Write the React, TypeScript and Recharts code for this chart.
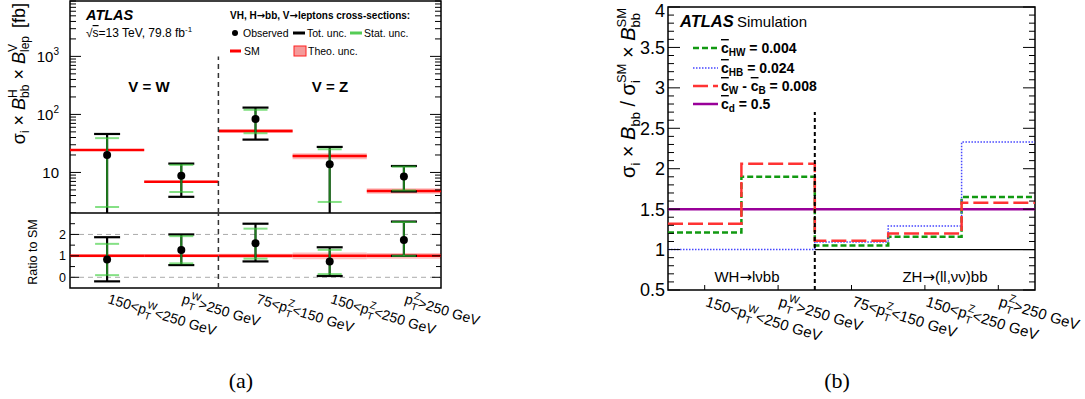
import React from "react";
import {
  ComposedChart,
  Line,
  Scatter,
  ErrorBar,
  XAxis,
  YAxis,
  ReferenceLine,
  ReferenceArea,
} from "recharts";

const FONT = "'Liberation Sans', Arial, Helvetica, sans-serif";
const ARROW = "'DejaVu Sans', sans-serif";

// five pT categories, shared by both panels
const binCenters = [0.5, 1.5, 2.5, 3.5, 4.5];
const binEdges = [0, 1, 2, 3, 4, 5];
const binLabels = [
  { pre: "150<p", sup: "W", post: "<250 GeV" },
  { pre: "p", sup: "W", post: ">250 GeV" },
  { pre: "75<p", sup: "Z", post: "<150 GeV" },
  { pre: "150<p", sup: "Z", post: "<250 GeV" },
  { pre: "p", sup: "Z", post: ">250 GeV" },
];

// (a) cross-sections [fb]
const observed = [20, 8.8, 83.6, 13.8, 8.5];
const totHigh = [46, 14.2, 131, 27.5, 12.9];
const totLow = [1.2, 3.8, 36.8, 1.2, 4.7];
const statHigh = [39, 13.5, 120, 25.1, 12.6];
const statLow = [2.54, 4.6, 47.4, 3.1, 4.9];
const smXsec = [24.4, 6.9, 52, 19.2, 4.8];
const theoRel = [0.04, 0.04, 0.08, 0.12, 0.11];

// (a) ratio to SM
const ratioObs = [0.83, 1.27, 1.59, 0.74, 1.74];
const ratioTotHigh = [1.87, 2.0, 2.5, 1.4, 2.6];
const ratioTotLow = [-0.19, 0.57, 0.74, 0.06, 1.0];
const ratioStatHigh = [1.56, 1.92, 2.27, 1.28, 2.58];
const ratioStatLow = [0.1, 0.65, 0.87, 0.15, 1.0];
const ratioSm = [1, 1, 1, 1, 1];
const ratioTheoRel = [0.06, 0.06, 0.1, 0.16, 0.13];

// (b) EFT ratios per bin
const cHW = [1.21, 1.9, 1.05, 1.16, 1.65];
const cHB = [1.0, 1.0, 1.095, 1.29, 2.33];
const cWB = [1.32, 2.06, 1.11, 1.2, 1.58];
const cD = [1.5, 1.5, 1.5, 1.5, 1.5];

// axis ticks
const logMajor = [10, 100, 1000];
const logTicks = [1, 10, 100, 1000]
  .flatMap((d) => [2, 3, 4, 5, 6, 7, 8, 9].map((k) => k * d))
  .concat(logMajor)
  .filter((v) => v >= 2 && v <= 9000);
const ratioMajor = [0, 1, 2];
const ratioTicks = [0, 0.5, 1, 1.5, 2, 2.5];
const bMajor = [0.5, 1, 1.5, 2, 2.5, 3, 3.5, 4];
const bTicks = Array.from({ length: 36 }, (_, i) => Math.round((0.5 + i * 0.1) * 10) / 10);

const rowsA = binCenters.map((x, i) => ({
  x,
  obs: observed[i],
  tot: [observed[i] - totLow[i], totHigh[i] - observed[i]],
  stat: [observed[i] - statLow[i], statHigh[i] - observed[i]],
}));

const rowsR = binCenters.map((x, i) => ({
  x,
  obs: ratioObs[i],
  tot: [ratioObs[i] - ratioTotLow[i], ratioTotHigh[i] - ratioObs[i]],
  stat: [ratioObs[i] - ratioStatLow[i], ratioStatHigh[i] - ratioObs[i]],
}));

const rowsB = binEdges.map((x, i) => {
  const k = Math.min(i, 4);
  return { x, hw: cHW[k], hb: cHB[k], wb: cWB[k], d: cD[k] };
});

function SideTick(props: any) {
  const { x, y, payload, cfg } = props;
  const v = payload.value;
  const major = cfg.majors.some((m: number) => Math.abs(m - v) < 1e-6);
  const dir = cfg.side === "left" ? 1 : -1;
  const len = major ? cfg.majLen : cfg.minLen;
  // keep the topmost label inside the picture
  const ty = Math.max(y + cfg.fs * 0.36, cfg.fs * 0.92);
  return (
    <g>
      <line x1={x} x2={x + dir * len} y1={y} y2={y} stroke="#000" strokeWidth={1} />
      {cfg.side === "left" && major && (
        <text x={x - cfg.gap} y={ty} textAnchor="end" fontSize={cfg.fs} fontFamily={FONT} fill="#000">
          {cfg.label(v)}
        </text>
      )}
    </g>
  );
}

function BinLabel(props: any) {
  const { x, y, payload, fs, off, mark } = props;
  const lab = binLabels[binCenters.indexOf(payload.value)];
  if (!lab) return null;
  const s = fs * 0.72;
  return (
    <g>
      {mark && <line x1={x} x2={x} y1={y} y2={y - 5} stroke="#000" strokeWidth={1} />}
      <text transform={`translate(${x},${y + off}) rotate(17)`} fontSize={fs} fontFamily={FONT} fill="#000">
        <tspan>{lab.pre}</tspan>
        <tspan fontSize={s} dy={fs * 0.3}>T</tspan>
        <tspan fontSize={s} dx={-s * 0.611} dy={-fs * 0.8}>{lab.sup}</tspan>
        <tspan dy={fs * 0.5}>{lab.post}</tspan>
      </text>
    </g>
  );
}

const dot = (p: any) => <circle cx={p.cx} cy={p.cy} r={4} fill="#000" />;

const logLabel = (v: number) =>
  v === 10 ? (
    "10"
  ) : (
    <>
      10
      <tspan fontSize={10} dy={-7}>{v === 100 ? "2" : "3"}</tspan>
    </>
  );

const numLabel = (v: number) => String(v);

function PanelA() {
  const cfgL = { side: "left", majors: logMajor, majLen: 11, minLen: 6, gap: 11, fs: 15, label: logLabel };
  const cfgR = { ...cfgL, side: "right" };
  return (
    <ComposedChart width={460} height={213} data={rowsA} margin={{ top: 1, right: 0, bottom: 0, left: 0 }}>
      <XAxis dataKey="x" type="number" domain={[0, 5]} hide />
      <YAxis
        scale="log"
        domain={[2, 9000]}
        allowDataOverflow
        ticks={logTicks}
        interval={0}
        width={70}
        axisLine={false}
        tickLine={false}
        tickSize={0}
        tickMargin={0}
        tick={(p: any) => <SideTick {...p} cfg={cfgL} />}
      />
      <YAxis
        yAxisId="r"
        orientation="right"
        scale="log"
        domain={[2, 9000]}
        allowDataOverflow
        ticks={logTicks}
        interval={0}
        width={19}
        axisLine={false}
        tickLine={false}
        tickSize={0}
        tickMargin={0}
        tick={(p: any) => <SideTick {...p} cfg={cfgR} />}
      />
      {smXsec.map((v, i) => (
        <ReferenceArea
          key={"b" + i}
          x1={binEdges[i]}
          x2={binEdges[i + 1]}
          y1={v * (1 - theoRel[i])}
          y2={v * (1 + theoRel[i])}
          fill="#ff8c8c"
          fillOpacity={0.6}
          stroke="none"
        />
      ))}
      {smXsec.map((v, i) => (
        <ReferenceLine
          key={"s" + i}
          segment={[{ x: binEdges[i], y: v }, { x: binEdges[i + 1], y: v }]}
          stroke="#ff0000"
          strokeWidth={2.5}
        />
      ))}
      <ReferenceLine segment={[{ x: 2, y: 2 }, { x: 2, y: 1000 }]} stroke="#333" strokeWidth={1.5} strokeDasharray="5 4" />
      <Scatter dataKey="obs" shape={dot} isAnimationActive={false}>
        <ErrorBar dataKey="tot" direction="y" width={13} stroke="#000" strokeWidth={2.2} isAnimationActive={false} />
        <ErrorBar dataKey="stat" direction="y" width={12} stroke="#33cc33" strokeOpacity={0.6} strokeWidth={2} isAnimationActive={false} />
      </Scatter>
      <ReferenceArea x1={0} x2={5} y1={2} y2={9000} fill="none" stroke="#000" strokeWidth={1.5} />
    </ComposedChart>
  );
}

function PanelRatio() {
  const cfgL = { side: "left", majors: ratioMajor, majLen: 9, minLen: 5, gap: 4, fs: 12.5, label: numLabel };
  const cfgR = { ...cfgL, side: "right" };
  return (
    <ComposedChart width={500} height={135} data={rowsR} margin={{ top: 0, right: 40, bottom: 0, left: 0 }}>
      <XAxis
        dataKey="x"
        type="number"
        domain={[0, 5]}
        ticks={binCenters}
        interval={0}
        height={60}
        axisLine={false}
        tickLine={false}
        tickSize={0}
        tickMargin={0}
        tick={(p: any) => <BinLabel {...p} fs={14} off={15} mark={false} />}
      />
      <YAxis
        domain={[-0.5, 3.0]}
        allowDataOverflow
        ticks={ratioTicks}
        interval={0}
        width={70}
        axisLine={false}
        tickLine={false}
        tickSize={0}
        tickMargin={0}
        tick={(p: any) => <SideTick {...p} cfg={cfgL} />}
      />
      <YAxis
        yAxisId="r"
        orientation="right"
        domain={[-0.5, 3.0]}
        allowDataOverflow
        ticks={ratioTicks}
        interval={0}
        width={19}
        axisLine={false}
        tickLine={false}
        tickSize={0}
        tickMargin={0}
        tick={(p: any) => <SideTick {...p} cfg={cfgR} />}
      />
      <ReferenceLine y={0} stroke="#aaa" strokeDasharray="5 4" />
      <ReferenceLine y={2} stroke="#aaa" strokeDasharray="5 4" />
      {ratioSm.map((v, i) => (
        <ReferenceArea
          key={"b" + i}
          x1={binEdges[i]}
          x2={binEdges[i + 1]}
          y1={v - ratioTheoRel[i]}
          y2={v + ratioTheoRel[i]}
          fill="#ff8c8c"
          fillOpacity={0.55}
          stroke="none"
        />
      ))}
      {ratioSm.map((v, i) => (
        <ReferenceLine
          key={"s" + i}
          segment={[{ x: binEdges[i], y: v }, { x: binEdges[i + 1], y: v }]}
          stroke="#ff0000"
          strokeWidth={2.5}
        />
      ))}
      <ReferenceLine x={2} stroke="#333" strokeWidth={1.5} strokeDasharray="5 4" />
      <Scatter dataKey="obs" shape={dot} isAnimationActive={false}>
        <ErrorBar dataKey="tot" direction="y" width={13} stroke="#000" strokeWidth={2.2} isAnimationActive={false} />
        <ErrorBar dataKey="stat" direction="y" width={12} stroke="#33cc33" strokeOpacity={0.6} strokeWidth={2} isAnimationActive={false} />
      </Scatter>
      <ReferenceArea x1={0} x2={5} y1={-0.5} y2={3.0} fill="none" stroke="#000" strokeWidth={1.5} />
    </ComposedChart>
  );
}

function PanelB() {
  const cfgL = { side: "left", majors: bMajor, majLen: 12, minLen: 6, gap: 3, fs: 18, label: numLabel };
  const cfgR = { ...cfgL, side: "right" };
  return (
    <ComposedChart width={485} height={345} data={rowsB} margin={{ top: 7, right: 40, bottom: 0, left: 0 }}>
      <XAxis
        dataKey="x"
        type="number"
        domain={[0, 5]}
        ticks={binCenters}
        interval={0}
        height={55}
        axisLine={false}
        tickLine={false}
        tickSize={0}
        tickMargin={0}
        tick={(p: any) => <BinLabel {...p} fs={15} off={16} mark={true} />}
      />
      <YAxis
        domain={[0.5, 4]}
        allowDataOverflow
        ticks={bTicks}
        interval={0}
        width={68}
        axisLine={false}
        tickLine={false}
        tickSize={0}
        tickMargin={0}
        tick={(p: any) => <SideTick {...p} cfg={cfgL} />}
      />
      <YAxis
        yAxisId="r"
        orientation="right"
        domain={[0.5, 4]}
        allowDataOverflow
        ticks={bTicks}
        interval={0}
        width={10}
        axisLine={false}
        tickLine={false}
        tickSize={0}
        tickMargin={0}
        tick={(p: any) => <SideTick {...p} cfg={cfgR} />}
      />
      <ReferenceLine segment={[{ x: 2, y: 1 }, { x: 5, y: 1 }]} stroke="#000" strokeWidth={1.2} />
      <Line type="stepAfter" dataKey="d" stroke="#990099" strokeWidth={2.5} dot={false} isAnimationActive={false} />
      <Line type="stepAfter" dataKey="hw" stroke="#119911" strokeWidth={2.5} strokeDasharray="6 3" dot={false} isAnimationActive={false} />
      <Line type="stepAfter" dataKey="hb" stroke="#4646ff" strokeWidth={1.5} strokeDasharray="1.5 1.5" dot={false} isAnimationActive={false} />
      <Line type="stepAfter" dataKey="wb" stroke="#ff3333" strokeWidth={2.5} strokeDasharray="15 5" dot={false} isAnimationActive={false} />
      <ReferenceLine segment={[{ x: 2, y: 0.5 }, { x: 2, y: 2.7 }]} stroke="#000" strokeWidth={2} strokeDasharray="4 3" />
      <ReferenceArea x1={0} x2={5} y1={0.5} y2={4} fill="none" stroke="#000" strokeWidth={1.5} />
    </ComposedChart>
  );
}

function Overlay() {
  const t = { fontFamily: FONT, fill: "#000" };
  return (
    <svg width={1085} height={399} style={{ position: "absolute", left: 0, top: 0, pointerEvents: "none" }}>
      {/* (a) y title */}
      <text {...t} transform="translate(25,3) rotate(-90)" textAnchor="end" fontSize={18}>
        σ<tspan fontSize={12} dy={4}>i</tspan>
        <tspan dy={-4}> × </tspan>
        <tspan fontStyle="italic">B</tspan>
        <tspan fontSize={12} dy={-8}>H</tspan>
        <tspan fontSize={12} dx={-8.7} dy={12}>bb</tspan>
        <tspan dy={-4}> × </tspan>
        <tspan fontStyle="italic">B</tspan>
        <tspan fontSize={12} dy={-8}>V</tspan>
        <tspan fontSize={12} dx={-8} dy={12}>lep</tspan>
        <tspan dy={-4} dx={8}>[fb]</tspan>
      </text>
      <text {...t} transform="translate(37,252) rotate(-90)" textAnchor="middle" fontSize={12.5}>
        Ratio to SM
      </text>
      <text {...t} x={86} y={20} fontSize={14.5} fontWeight="bold" fontStyle="italic">ATLAS</text>
      <text {...t} x={86} y={37} fontSize={12}>
        √<tspan textDecoration="overline">s</tspan>=13 TeV, 79.8 fb
        <tspan fontSize={8} dy={-5}>-1</tspan>
      </text>
      <text {...t} x={230} y={19} fontSize={10} fontWeight="bold">
        VH, H<tspan fontFamily={ARROW}>→</tspan>bb, V<tspan fontFamily={ARROW}>→</tspan>leptons cross-sections:
      </text>
      <circle cx={235} cy={33} r={3} fill="#000" />
      <text {...t} x={243} y={37} fontSize={10.5}>Observed</text>
      <line x1={293} x2={305} y1={33} y2={33} stroke="#000" strokeWidth={3} />
      <text {...t} x={307} y={37} fontSize={10.5}>Tot. unc.</text>
      <line x1={350} x2={362} y1={33} y2={33} stroke="#55cc55" strokeWidth={3} />
      <text {...t} x={364} y={37} fontSize={10.5}>Stat. unc.</text>
      <line x1={230} x2={241} y1={51} y2={51} stroke="#ff0000" strokeWidth={3} />
      <text {...t} x={244} y={55} fontSize={10.5}>SM</text>
      <rect x={294} y={46} width={12} height={10} fill="#f59a9a" stroke="#ff2020" strokeWidth={1} />
      <text {...t} x={308} y={55} fontSize={10.5}>Theo. unc.</text>
      <text {...t} x={149} y={92} fontSize={15} fontWeight="bold" textAnchor="middle">V = W</text>
      <text {...t} x={330} y={92} fontSize={15} fontWeight="bold" textAnchor="middle">V = Z</text>
      <text x={241} y={388} fontSize={22} textAnchor="middle" fontFamily="'Liberation Serif', 'Times New Roman', serif">(a)</text>

      {/* (b) y title */}
      <text {...t} transform="translate(635,8) rotate(-90)" textAnchor="end" fontSize={20}>
        σ<tspan fontSize={13} dy={5}>i</tspan>
        <tspan dy={-5}> × </tspan>
        <tspan fontStyle="italic">B</tspan>
        <tspan fontSize={13} dy={5}>bb</tspan>
        <tspan dy={-5}> / σ</tspan>
        <tspan fontSize={13} dy={5}>i</tspan>
        <tspan fontSize={13} dx={-2.9} dy={-14}>SM</tspan>
        <tspan dy={9}> × </tspan>
        <tspan fontStyle="italic">B</tspan>
        <tspan fontSize={13} dy={5}>bb</tspan>
        <tspan fontSize={13} dx={-14.5} dy={-14}>SM</tspan>
      </text>
      <text {...t} x={680} y={27} fontSize={16.5} fontWeight="bold" fontStyle="italic">ATLAS</text>
      <text {...t} x={737} y={27} fontSize={15}>Simulation</text>

      <line x1={693} x2={718} y1={48} y2={48} stroke="#119911" strokeWidth={2.5} strokeDasharray="6 3" />
      <text {...t} x={721} y={53} fontSize={14} fontWeight="bold">
        <tspan textDecoration="overline">c</tspan>
        <tspan fontSize={10} dy={3}>HW</tspan>
        <tspan dy={-3}> = 0.004</tspan>
      </text>
      <line x1={693} x2={718} y1={68} y2={68} stroke="#4646ff" strokeWidth={1.5} strokeDasharray="1.5 1.5" />
      <text {...t} x={721} y={73} fontSize={14} fontWeight="bold">
        <tspan textDecoration="overline">c</tspan>
        <tspan fontSize={10} dy={3}>HB</tspan>
        <tspan dy={-3}> = 0.024</tspan>
      </text>
      <line x1={693} x2={718} y1={86} y2={86} stroke="#ff3333" strokeWidth={2.5} strokeDasharray="15 5" />
      <text {...t} x={721} y={91} fontSize={14} fontWeight="bold">
        <tspan textDecoration="overline">c</tspan>
        <tspan fontSize={10} dy={3}>W</tspan>
        <tspan dy={-3}> - </tspan>
        <tspan textDecoration="overline">c</tspan>
        <tspan fontSize={10} dy={3}>B</tspan>
        <tspan dy={-3}> = 0.008</tspan>
      </text>
      <line x1={693} x2={718} y1={104} y2={104} stroke="#990099" strokeWidth={2.5} />
      <text {...t} x={721} y={109} fontSize={14} fontWeight="bold">
        <tspan textDecoration="overline">c</tspan>
        <tspan fontSize={10} dy={3}>d</tspan>
        <tspan dy={-3}> = 0.5</tspan>
      </text>

      <text {...t} x={747} y={282} fontSize={15} textAnchor="middle">
        WH<tspan fontFamily={ARROW}>→</tspan>lνbb
      </text>
      <text {...t} x={945} y={282} fontSize={15} textAnchor="middle">
        ZH<tspan fontFamily={ARROW}>→</tspan>(ll,νν)bb
      </text>
      <text x={837} y={388} fontSize={22} textAnchor="middle" fontFamily="'Liberation Serif', 'Times New Roman', serif">(b)</text>
    </svg>
  );
}

export default function App() {
  return (
    <div style={{ position: "relative", width: 1085, height: 399, background: "#fff", fontFamily: FONT }}>
      <style>{"body{margin:0}"}</style>
      <div style={{ position: "absolute", left: 0, top: 0 }}>
        <PanelA />
      </div>
      <div style={{ position: "absolute", left: 0, top: 213 }}>
        <PanelRatio />
      </div>
      <div style={{ position: "absolute", left: 600, top: 0 }}>
        <PanelB />
      </div>
      <Overlay />
    </div>
  );
}
